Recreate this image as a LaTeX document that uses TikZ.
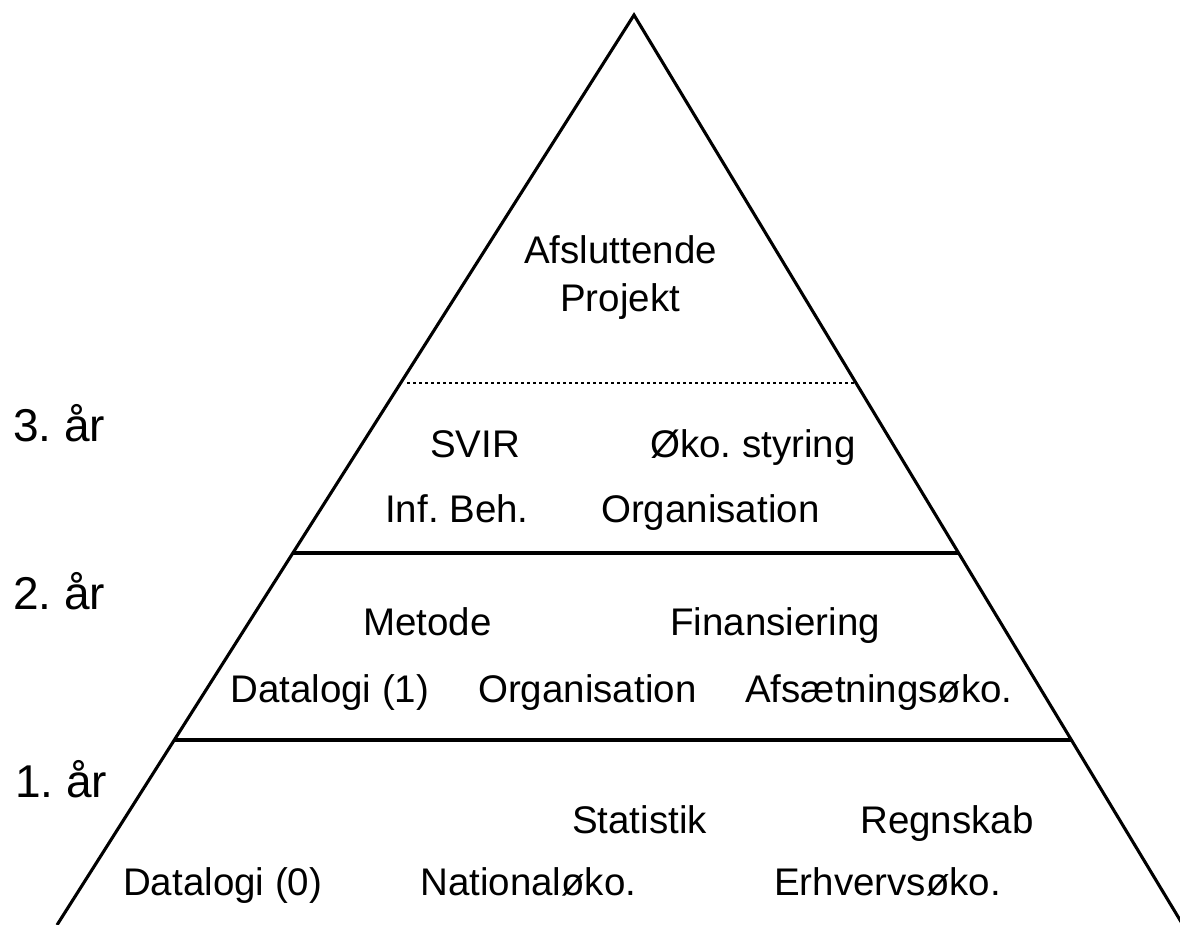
\documentclass[tikz,border=0pt]{standalone}
\usepackage{fontspec}
\setmainfont{Liberation Sans}
\usetikzlibrary{calc}
\frenchspacing
\begin{document}
\begin{tikzpicture}[x=1pt,y=-1pt,
  lbl/.style={anchor=base west,inner sep=0pt,font=\fontsize{38.5}{46}\selectfont},
  yearlbl/.style={anchor=base west,inner sep=0pt,font=\fontsize{46}{54}\selectfont},
  edge/.style={line width=3.1pt,line join=miter},
  level/.style={line width=3.1pt},
  dotline/.style={line width=2.8pt,dash pattern=on 3pt off 3pt}]
\useasboundingbox (0,0) rectangle (1180,925);
\coordinate (apex) at (634,15);
\coordinate (bl) at (57,925);
\coordinate (br) at (1183,925);
\draw[edge] (bl) -- (apex) -- (br);
\coordinate (l2) at ($(apex)!0.5912!(bl)$);
\coordinate (r2) at ($(apex)!0.5912!(br)$);
\coordinate (l1) at ($(apex)!0.7967!(bl)$);
\coordinate (r1) at ($(apex)!0.7967!(br)$);
\draw[level] (l2) -- (r2);
\draw[level] (l1) -- (r1);
\coordinate (dl) at (407,383);
\coordinate (dr) at (855,383);
\draw[dotline] (dl) -- (dr);
% year labels
\node[yearlbl] (y3) at (13,441) {3. år};
\node[yearlbl] (y2) at (13,609) {2. år};
\node[yearlbl] (y1) at (15,797) {1. år};
% top
\node[lbl] (afs) at (524,264) {Afsluttende};
\node[lbl] (proj) at (560,311) {Projekt};
% third year
\node[lbl] (svir) at (430,457) {SVIR};
\node[lbl] (oko) at (650,457) {Øko. styring};
\node[lbl] (inf) at (385,522) {Inf. Beh.};
\node[lbl] (org3) at (601,522) {Organisation};
% second year
\node[lbl] (met) at (363,635) {Metode};
\node[lbl] (fin) at (670,635) {Finansiering};
\node[lbl] (dat1) at (230,702) {Datalogi (1)};
\node[lbl] (org2) at (478,702) {Organisation};
\node[lbl] (afsa) at (745,702) {Afsætningsøko.};
% first year
\node[lbl] (stat) at (572,833) {Statistik};
\node[lbl] (regn) at (860,833) {Regnskab};
\node[lbl] (dat0) at (123,895) {Datalogi (0)};
\node[lbl] (nat) at (420,895) {Nationaløko.};
\node[lbl] (erh) at (774,895) {Erhvervsøko.};
\end{tikzpicture}
\end{document}
